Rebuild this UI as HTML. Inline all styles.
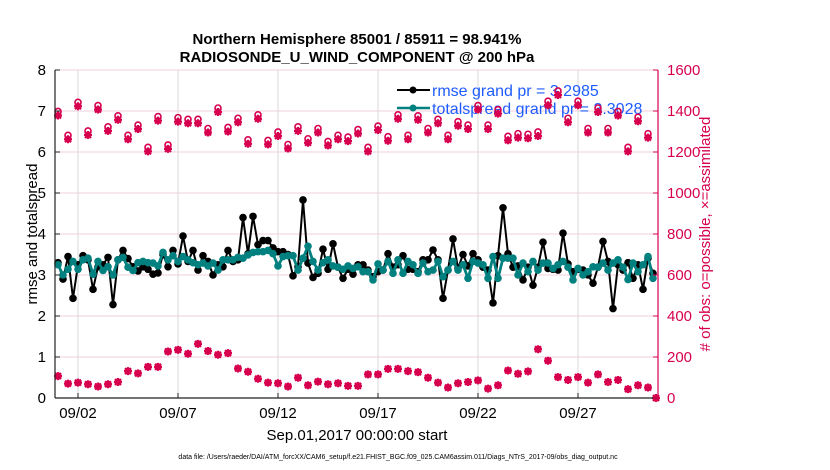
<!DOCTYPE html>
<html><head><meta charset="utf-8"><style>
body{margin:0;background:#fff;}
svg{display:block;font-family:"Liberation Sans",sans-serif;}
</style></head><body>
<svg id="chart" width="830" height="470" viewBox="0 0 830 470" xmlns="http://www.w3.org/2000/svg">
<g id="grid"></g>
<g id="legend">
  <line x1="397" y1="90" x2="430" y2="90" stroke="#000" stroke-width="2"/>
  <circle cx="413" cy="90" r="3.5" fill="#000"/>
  <text x="432" y="96" font-size="16" fill="#1f5cff">rmse grand pr = 3.2985</text>
  <line x1="397" y1="108" x2="430" y2="108" stroke="#00807f" stroke-width="2.5"/>
  <circle cx="413" cy="108" r="3.5" fill="#00807f"/>
  <text x="432" y="114" font-size="16" fill="#1f5cff">totalspread grand pr = 3.3028</text>
</g>
<g id="series"></g>
<g id="axes"></g>
<text x="357" y="44" font-size="15" font-weight="bold" text-anchor="middle">Northern Hemisphere 85001 / 85911 = 98.941%</text>
<text x="357" y="62" font-size="15" font-weight="bold" text-anchor="middle">RADIOSONDE_U_WIND_COMPONENT @ 200 hPa</text>
<text transform="translate(37,234) rotate(-90)" font-size="15" text-anchor="middle">rmse and totalspread</text>
<text transform="translate(710,234) rotate(-90)" font-size="15" text-anchor="middle" fill="#d6004f"># of obs: o=possible, ×=assimilated</text>
<text x="357" y="440" font-size="15" text-anchor="middle">Sep.01,2017 00:00:00 start</text>
<text x="398" y="459" font-size="7" text-anchor="middle">data file: /Users/raeder/DAI/ATM_forcXX/CAM6_setup/f.e21.FHIST_BGC.f09_025.CAM6assim.011/Diags_NTrS_2017-09/obs_diag_output.nc</text>
</svg>
<script>
const rmse=[3.3,2.9,3.45,2.43,3.25,3.47,3.37,2.65,3.2,3.25,3.43,2.28,3.37,3.6,3.4,3.2,3.1,3.2,3.14,3.02,3.05,3.5,3.2,3.6,3.27,3.95,3.33,3.6,3.12,3.47,3.33,3.0,3.25,3.2,3.6,3.33,3.37,4.4,3.52,4.43,3.74,
3.84,3.84,3.66,3.57,3.57,3.5,2.98,3.2,4.83,3.29,2.94,3.04,3.63,3.14,3.76,3.19,2.92,3.14,3.02,3.25,3.25,3.12,2.96,3.08,3.12,3.52,3.19,3.25,3.47,3.14,3.14,3.08,3.37,3.37,3.61,3.37,2.43,3.12,3.88,3.16,
3.5,3.22,3.52,3.37,3.19,3.12,2.32,3.47,4.64,3.52,3.19,3.22,2.88,3.19,2.75,3.19,3.8,3.16,3.14,3.12,4.02,3.27,3.08,3.14,3.12,3.0,2.8,3.19,3.82,3.33,2.18,3.25,3.12,3.3,2.92,3.25,2.65,3.41,3.04];
const spread=[3.25,3.0,3.14,3.33,3.14,3.37,3.41,3.02,3.33,3.11,3.2,3.0,3.37,3.43,3.19,3.11,3.3,3.33,3.3,3.29,3.22,3.55,3.37,3.47,3.33,3.45,3.37,3.3,3.25,3.29,3.22,3.29,3.12,3.37,3.37,3.37,3.43,3.41,3.49,3.55,3.57,
3.57,3.6,3.52,3.22,3.45,3.47,3.47,3.12,3.41,3.7,3.33,3.12,3.3,3.37,3.22,3.19,3.14,3.22,3.16,3.2,3.08,3.08,2.88,3.27,3.12,3.33,3.04,3.37,3.04,3.33,3.25,3.04,3.29,3.08,3.12,3.33,2.96,3.12,3.33,3.12,
3.25,2.92,3.33,3.29,3.25,2.92,3.45,2.92,3.41,3.41,3.41,3.0,3.29,3.08,3.33,3.12,3.29,3.29,3.16,3.25,3.33,3.19,2.88,3.16,3.0,3.08,3.2,3.19,3.29,3.12,3.29,3.37,3.19,2.89,3.29,3.08,3.25,3.45,2.92];
const obsTop=[1383,1267,1428,1288,1412,1308,1362,1267,1317,1208,1358,1220,1353,1345,1345,1300,1400,1305,1350,1245,1367,1242,1283,1222,1308,1250,1300,1237,1267,1258,1295,
1208,1312,1260,1367,1267,1362,1300,1345,1267,1333,1317,1412,1317,1392,1262,1275,1272,1283,1433,1483,1350,1433,1300,1400,1300,1383,1208,1355,1275];
const obsBot=[107,70,75,67,56,67,78,131,120,152,152,227,235,216,264,229,211,219,144,128,94,75,72,56,99,62,80,67,72,59,
59,115,115,142,142,131,126,99,75,51,72,78,86,46,62,134,118,130,238,182,102,88,102,75,115,78,88,43,62,51,0];
const xTickLabels=["09/02","09/07","09/12","09/17","09/22","09/27"];
const xTickDays=[1,6,11,16,21,26];
const leftTicks=[0,1,2,3,4,5,6,7,8];
const rightTicks=[0,200,400,600,800,1000,1200,1400,1600];

const X0=55,X1=658,Y0=398,Y1=70,RED="#d6004f",TEAL="#00807f";
const xd=d=>58+20*d;
const yl=v=>Y0-(v/8)*(Y0-Y1);
const yr=v=>Y0-(v/1600)*(Y0-Y1);
const NS="http://www.w3.org/2000/svg";
function mk(tag,attrs,parent){const e=document.createElementNS(NS,tag);for(const k in attrs)e.setAttribute(k,attrs[k]);parent.appendChild(e);return e;}
const grid=document.getElementById('grid'),axes=document.getElementById('axes'),ser=document.getElementById('series');
rightTicks.forEach(v=>{const l=mk('line',{x1:X0,x2:X1,y1:yr(v),y2:yr(v),stroke:"#f2cfdc","stroke-width":1},grid);

});
xTickDays.forEach(d=>{const l=mk('line',{x1:xd(d),x2:xd(d),y1:Y1,y2:Y0,stroke:"#d8d8d8","stroke-width":1},grid);

});
const gObs=mk('g',{},ser);


function star(x,y,g){mk('path',{d:`M${x-4} ${y}H${x+4}M${x} ${y-4}V${y+4}M${x-3} ${y-3}L${x+3} ${y+3}M${x-3} ${y+3}L${x+3} ${y-3}`,stroke:RED,"stroke-width":2.2},g);}
function obsMark(v,i,g){const x=xd(i===60?29.9:i*0.5);const y=yr(v);
 const c=mk('circle',{cx:x,cy:y-3,r:3,fill:"none",stroke:RED,"stroke-width":1.6},g);
 
 
 star(x,y+1,g);}
obsTop.forEach((v,i)=>obsMark(v,i,gObs));
obsBot.forEach((v,i)=>{const x=xd(i===60?29.9:i*0.5),y=yr(v);
 const c=mk('circle',{cx:x,cy:y,r:3.5,fill:RED},gObs);
 
 
 star(x,y,gObs);});
function line(arr,color,w,r,name){const g=mk('g',{},ser);
 
 
 mk('polyline',{points:arr.map((v,i)=>xd(i*0.25)+','+yl(v)).join(' '),fill:"none",stroke:color,"stroke-width":w,"stroke-linejoin":"round"},g);
 arr.forEach((v,i)=>{const c=mk('circle',{cx:xd(i*0.25),cy:yl(v),r:r,fill:color},g);
 
 });}
line(rmse,"#000",2,3.8,"rmse-series");
line(spread,TEAL,2.8,3.8,"totalspread-series");
mk('line',{x1:X0,x2:X0,y1:Y1,y2:Y0,stroke:"#222","stroke-width":1.2},axes);
mk('line',{x1:X0,x2:X1,y1:Y0,y2:Y0,stroke:"#222","stroke-width":1.2},axes);
mk('line',{x1:X1,x2:X1,y1:Y1,y2:Y0,stroke:RED,"stroke-width":1.2},axes);
leftTicks.forEach(v=>{mk('line',{x1:X0,x2:X0+5,y1:yl(v),y2:yl(v),stroke:"#222"},axes);
 const t=mk('text',{x:X0-9,y:yl(v)+5,"font-size":15,"text-anchor":"end"},axes);t.textContent=v;
 
 });
rightTicks.forEach(v=>{mk('line',{x1:X1-5,x2:X1,y1:yr(v),y2:yr(v),stroke:RED},axes);
 const t=mk('text',{x:X1+9,y:yr(v)+5,"font-size":15,fill:RED},axes);t.textContent=v;
 
 });
xTickDays.forEach((d,i)=>{mk('line',{x1:xd(d),x2:xd(d),y1:Y0-5,y2:Y0,stroke:"#222"},axes);
 const t=mk('text',{x:xd(d),y:Y0+20,"font-size":15,"text-anchor":"middle"},axes);t.textContent=xTickLabels[i];
 
 });
</script>
</body></html>
